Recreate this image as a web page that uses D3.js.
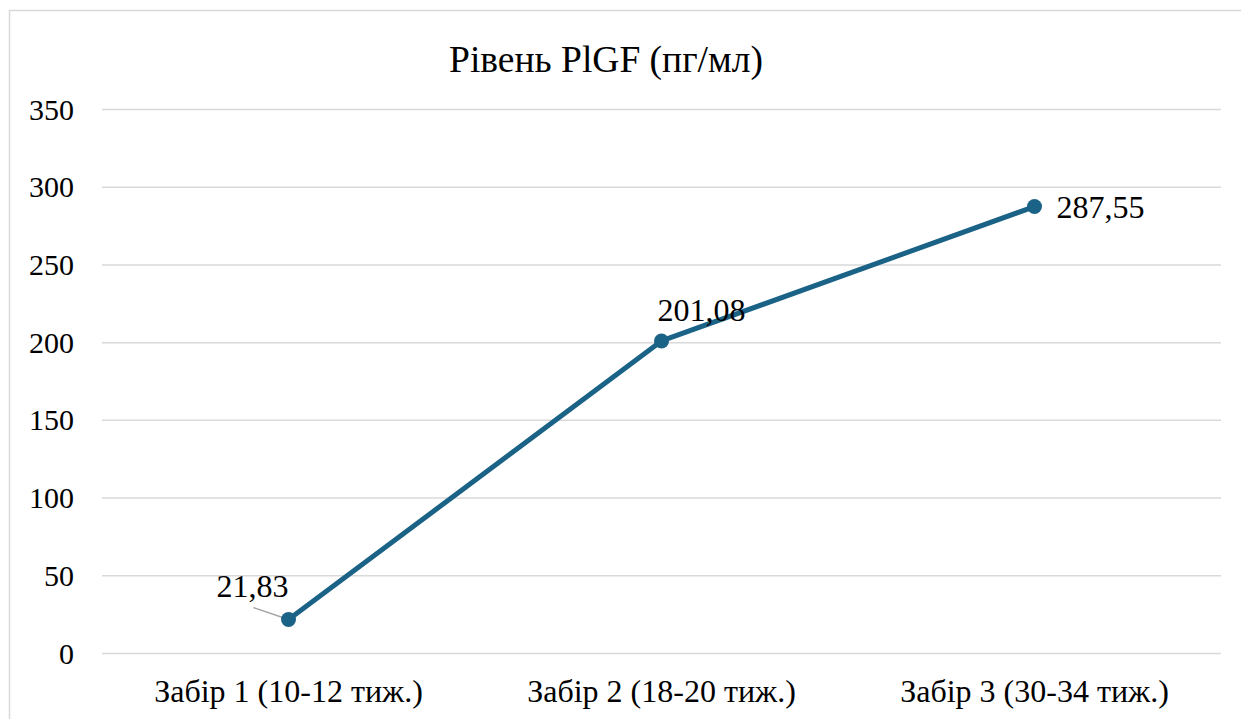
<!DOCTYPE html>
<html>
<head>
<meta charset="utf-8">
<script src="https://cdn.jsdelivr.net/npm/d3@7"></script>
<style>
  html, body { margin: 0; padding: 0; background: #fff; }
  svg { display: block; }
  svg text { font-family: "Liberation Serif", "Times New Roman", "Liberation Sans", Arial, sans-serif !important; }
</style>
</head>
<body>
<svg id="chart" width="1241" height="719"></svg>
<script>
// PlGF level by sampling period
const categories = ["Забір 1 (10-12 тиж.)", "Забір 2 (18-20 тиж.)", "Забір 3 (30-34 тиж.)"];
const values = [21.83, 201.08, 287.55];
const valueLabels = ["21,83", "201,08", "287,55"];
const yTicks = [0, 50, 100, 150, 200, 250, 300, 350];
const title = "Рівень PlGF (пг/мл)";

const W = 1241, H = 719;
const margin = { left: 102, right: 1221, top: 109.5, bottom: 653.5 };
const lineColor = "#1b6287";
const gridColor = "#d9d9d9";

const svg = d3.select("#chart");

// chart frame
svg.append("rect")
  .attr("x", 9.5).attr("y", 10.5)
  .attr("width", W + 20).attr("height", H + 20)
  .attr("fill", "#fff").attr("stroke", "#d9d9d9").attr("stroke-width", 1.5);

const x = d3.scaleBand().domain(categories).range([margin.left, margin.right]).padding(0);
const y = d3.scaleLinear().domain([0, 350]).range([margin.bottom, margin.top]);

// horizontal gridlines
svg.append("g").selectAll("line").data(yTicks).join("line")
  .attr("x1", margin.left).attr("x2", margin.right)
  .attr("y1", d => y(d)).attr("y2", d => y(d))
  .attr("stroke", gridColor).attr("stroke-width", 1.5);

// y axis labels
const yAxis = d3.axisLeft(y).tickValues(yTicks).tickSize(0).tickPadding(0);
const gy = svg.append("g").attr("transform", "translate(74,0)").call(yAxis);
gy.select(".domain").remove();
gy.selectAll("text").attr("font-size", 30).attr("fill", "#000");

// x axis labels
const xAxis = d3.axisBottom(x).tickSize(0).tickPadding(0);
const gx = svg.append("g").attr("transform", "translate(0,679)").call(xAxis);
gx.select(".domain").remove();
gx.selectAll("text").attr("font-size", 32).attr("fill", "#000");

// title
svg.append("text")
  .attr("x", 606).attr("y", 72)
  .attr("text-anchor", "middle")
  .attr("font-size", 37.5).attr("fill", "#000")
  .text(title);

const cx = i => x(categories[i]) + x.bandwidth() / 2;

// leader line for the first label
svg.append("line")
  .attr("x1", cx(0) - 35).attr("y1", y(values[0]) - 12)
  .attr("x2", cx(0)).attr("y2", y(values[0]))
  .attr("stroke", "#a6a6a6").attr("stroke-width", 1.5);

// series line
const line = d3.line().x((d, i) => cx(i)).y(d => y(d));
svg.append("path").datum(values)
  .attr("d", line)
  .attr("fill", "none").attr("stroke", lineColor)
  .attr("stroke-width", 5).attr("stroke-linejoin", "round");

// markers
svg.append("g").selectAll("circle").data(values).join("circle")
  .attr("cx", (d, i) => cx(i)).attr("cy", d => y(d))
  .attr("r", 7.5).attr("fill", lineColor);

// value labels
const labelOffsets = [
  { dx: -36, dy: -23, anchor: "middle" },
  { dx: 40, dy: -20, anchor: "middle" },
  { dx: 22, dy: 11, anchor: "start" }
];
svg.append("g").selectAll("text").data(values).join("text")
  .attr("x", (d, i) => cx(i) + labelOffsets[i].dx)
  .attr("y", (d, i) => y(d) + labelOffsets[i].dy)
  .attr("text-anchor", (d, i) => labelOffsets[i].anchor)
  .attr("font-size", 32).attr("fill", "#000")
  .text((d, i) => valueLabels[i]);
</script>
</body>
</html>
